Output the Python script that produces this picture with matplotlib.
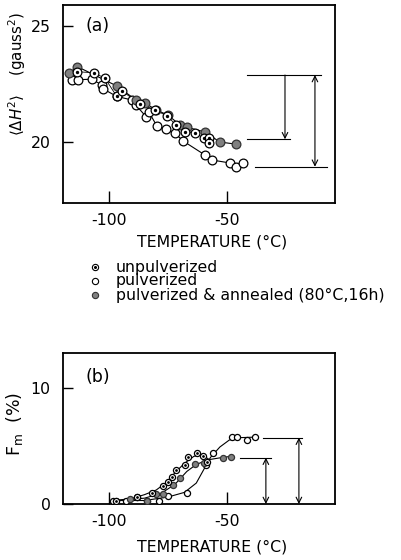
import numpy as np
import matplotlib
matplotlib.use("Agg")
import matplotlib.pyplot as plt

plt.rcParams['font.family'] = ['DejaVu Sans']
plt.rcParams['axes.unicode_minus'] = False

# ---- panel (a): second moment vs temperature
a_unpulv_t = [-113.4, -106.4, -101.7, -96.7, -94.6, -86.9, -80.5, -75.3, -71.6, -67.8, -63.6, -59.7, -57.5, -57.5]
a_unpulv_m = [23.02, 22.98, 22.74, 21.96, 22.21, 21.63, 21.38, 21.12, 20.73, 20.44, 20.40, 20.16, 20.18, 19.96]
a_pulv_t = [-115.8, -113.0, -107.3, -103.1, -102.4, -96.7, -90.4, -88.6, -84.3, -83.1, -79.7, -75.8, -72.0, -68.5, -59.3, -56.5, -48.7, -46.2, -43.0]
a_pulv_m = [22.68, 22.68, 22.70, 22.46, 22.28, 21.96, 21.81, 21.59, 21.09, 21.29, 20.69, 20.56, 20.37, 20.04, 19.44, 19.23, 19.10, 18.93, 19.12]
a_ann_t = [-116.9, -113.4, -96.7, -88.6, -84.7, -80.1, -75.0, -69.9, -67.0, -59.3, -53.0, -46.2]
a_ann_m = [22.98, 23.24, 22.41, 21.81, 21.68, 21.38, 21.16, 20.73, 20.64, 20.43, 20.00, 19.91]

# ---- panel (b): mobile fraction vs temperature
b_unpulv_t = [-97, -88.3, -81.9, -77.0, -75.1, -73.4, -71.6, -67.8, -66.4, -62.8, -60.0, -58.6]
b_unpulv_f = [0.3, 0.63, 0.97, 1.55, 1.92, 2.35, 2.92, 3.35, 4.0, 4.41, 4.13, 3.64]
b_pulv_t = [-98.2, -93.0, -88.3, -84.0, -78.7, -74.9, -66.8, -59.0, -55.8, -48.0, -45.9, -41.7, -38.1]
b_pulv_f = [0.28, 0.3, 0.57, 0.3, 0.26, 0.69, 0.97, 3.35, 4.41, 5.79, 5.79, 5.5, 5.79]
b_ann_t = [-97, -91, -84, -80, -77, -73, -70, -63.6, -59.7, -51.8, -48.4]
b_ann_f = [0.3, 0.4, 0.3, 0.9, 0.9, 1.6, 2.2, 3.44, 3.5, 3.98, 4.07]

# hand-drawn guide curves in (b)
c_unpulv_t = [-97, -90, -85, -80, -76, -72, -68, -64, -61, -58]
c_unpulv_f = [0.3, 0.5, 0.8, 1.2, 1.8, 2.7, 3.5, 4.1, 4.2, 3.9]
c_pulv_t = [-97, -85, -75, -68, -63, -60, -57, -53, -49, -45, -38]
c_pulv_f = [0.3, 0.3, 0.6, 1.0, 1.8, 2.9, 4.0, 4.9, 5.5, 5.7, 5.75]
c_ann_t = [-97, -85, -78, -72, -67, -63, -58, -52, -48]
c_ann_f = [0.3, 0.5, 0.9, 1.7, 2.8, 3.4, 3.8, 4.0, 4.1]

legend_labels = ['unpulverized', 'pulverized', 'pulverized & annealed (80\u00b0C,16h)']

GREY = '#808080'
FS = 11.3
W, H = 402, 560
fig = plt.figure(figsize=(W / 100, H / 100), dpi=100)


def box(px_l, px_t, px_r, px_b):
    return [px_l / W, 1 - px_b / H, (px_r - px_l) / W, (px_b - px_t) / H]


ax_a = fig.add_axes(box(63, 5, 335, 203))
ax_b = fig.add_axes(box(63, 353, 335, 504))


def unpulv(ax, t, v, ms):
    ax.plot(t, v, 'o', mfc='white', mec='black', mew=0.9, ms=ms, zorder=4)
    ax.plot(t, v, 'o', mfc='black', mec='black', ms=ms * 0.22, zorder=5)


def pulv(ax, t, v, ms):
    ax.plot(t, v, 'o', mfc='white', mec='black', mew=0.9, ms=ms, zorder=4)


def ann(ax, t, v, ms):
    ax.plot(t, v, 'o', mfc=GREY, mec='#333333', mew=0.9, ms=ms, zorder=4)


# panel (a)
ax_a.plot(a_pulv_t, a_pulv_m, '-', color='black', lw=0.8, zorder=2)
ax_a.plot(a_ann_t, a_ann_m, '-', color='black', lw=0.8, zorder=2)
ax_a.plot(a_unpulv_t, a_unpulv_m, '-', color='black', lw=0.6, zorder=2)
pulv(ax_a, a_pulv_t, a_pulv_m, 6.3)
ann(ax_a, a_ann_t, a_ann_m, 6.3)
unpulv(ax_a, a_unpulv_t, a_unpulv_m, 6.3)

ax_a.set_xlim(-119.5, -4.2)
ax_a.set_ylim(17.38, 25.89)
ax_a.set_yticks([20, 25])
ax_a.set_xticks([-100, -50])
ax_a.text(-109.8, 25, '(a)', fontsize=12.5, va='center', ha='left')

# level marks and arrows in (a)
ax_a.plot([-41.5, -10.2], [22.88, 22.88], color='black', lw=0.8)
ax_a.plot([-41.5, -23.3], [20.12, 20.12], color='black', lw=0.8)
ax_a.plot([-38.1, -7.6], [18.94, 18.94], color='black', lw=0.8)
ax_a.annotate('', xy=(-25.4, 20.12), xytext=(-25.4, 22.88),
              arrowprops=dict(arrowstyle='->', lw=0.8, color='black', shrinkA=0, shrinkB=0))
ax_a.annotate('', xy=(-12.7, 18.94), xytext=(-12.7, 22.88),
              arrowprops=dict(arrowstyle='<->', lw=0.8, color='black', shrinkA=0, shrinkB=0))

ax_a.set_ylabel(r'$\langle\Delta H^2\rangle$    (gauss$^2$)', fontsize=10.8)
ax_a.yaxis.set_label_coords(-0.13, 0.65)
ax_a.text(0.55, -0.197, 'TEMPERATURE (\u00b0C)', transform=ax_a.transAxes,
          ha='center', va='center', fontsize=FS)

# legend under (a)
leg_y = [267, 281, 295]
fig_tr = fig.transFigure
for i, (lab, yy) in enumerate(zip(legend_labels, leg_y)):
    fy = 1 - yy / H
    fx = 95 / W
    if i == 0:
        ax_a.plot([fx], [fy], 'o', mfc='white', mec='black', mew=0.8, ms=4.5, transform=fig_tr, clip_on=False)
        ax_a.plot([fx], [fy], 'o', mfc='black', mec='black', ms=1.2, transform=fig_tr, clip_on=False)
    elif i == 1:
        ax_a.plot([fx], [fy], 'o', mfc='white', mec='black', mew=0.8, ms=4.5, transform=fig_tr, clip_on=False)
    else:
        ax_a.plot([fx], [fy], 'o', mfc=GREY, mec='#333333', mew=0.8, ms=4.5, transform=fig_tr, clip_on=False)
    fig.text(116 / W, fy, lab, fontsize=FS, va='center', ha='left')

# panel (b)
ax_b.plot(c_unpulv_t, c_unpulv_f, '-', color='black', lw=0.8, zorder=2)
ax_b.plot(c_pulv_t, c_pulv_f, '-', color='black', lw=0.8, zorder=2)
ax_b.plot(c_ann_t, c_ann_f, '-', color='black', lw=0.8, zorder=2)
pulv(ax_b, b_pulv_t, b_pulv_f, 4.4)
ann(ax_b, b_ann_t, b_ann_f, 4.4)
unpulv(ax_b, b_unpulv_t, b_unpulv_f, 4.4)

ax_b.set_xlim(-119.5, -4.2)
ax_b.set_ylim(0, 12.98)
ax_b.set_yticks([0, 10])
ax_b.set_xticks([-100, -50])
ax_b.text(-109.8, 10.9, '(b)', fontsize=12.5, va='center', ha='left')

ax_b.plot([-34.6, -18.4], [5.70, 5.70], color='black', lw=0.8)
ax_b.plot([-44.5, -31.5], [3.98, 3.98], color='black', lw=0.8)
ax_b.annotate('', xy=(-19.5, 0), xytext=(-19.5, 5.70),
              arrowprops=dict(arrowstyle='<->', lw=0.8, color='black', shrinkA=0, shrinkB=0))
ax_b.annotate('', xy=(-33.5, 0), xytext=(-33.5, 3.98),
              arrowprops=dict(arrowstyle='<->', lw=0.8, color='black', shrinkA=0, shrinkB=0))

ax_b.set_ylabel(r'F$_{\rm m}$  (%)', fontsize=12.5)
ax_b.yaxis.set_label_coords(-0.14, 0.53)
ax_b.text(0.55, -0.285, 'TEMPERATURE (\u00b0C)', transform=ax_b.transAxes,
          ha='center', va='center', fontsize=FS)

for ax in (ax_a, ax_b):
    for s in ax.spines.values():
        s.set_linewidth(1.3)
    ax.tick_params(axis='x', direction='in', length=9, width=1.0, pad=7, labelsize=FS)
    ax.tick_params(axis='y', direction='in', length=7, width=1.0, pad=9, labelsize=FS)

fig.savefig('out.png', dpi=100)
